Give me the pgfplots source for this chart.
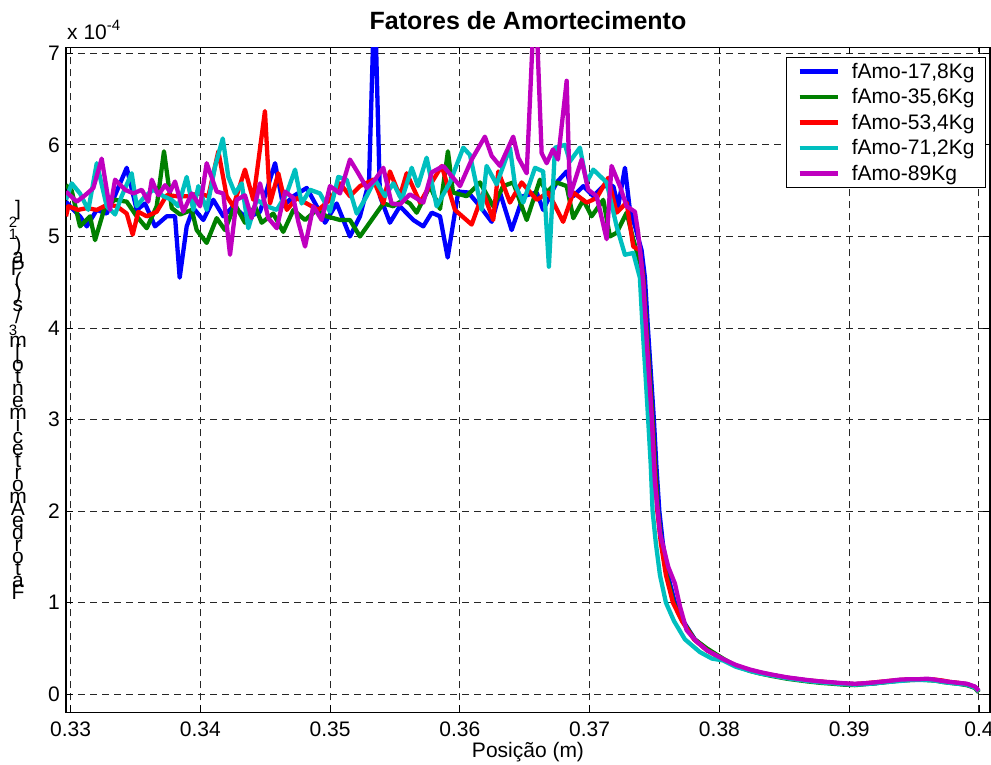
\documentclass[border=0pt]{standalone}
\usepackage{pgfplots}
\pgfplotsset{compat=1.18}
\usepackage{fontspec}
\setmainfont{Liberation Sans}
\definecolor{mblue}{rgb}{0,0,1}
\definecolor{mgreen}{rgb}{0,0.5,0}
\definecolor{mred}{rgb}{1,0,0}
\definecolor{mcyan}{rgb}{0,0.75,0.75}
\definecolor{mmag}{rgb}{0.75,0,0.75}
\newcommand\sps[1]{{\fontsize{15}{12}\selectfont #1\kern10pt}}
\newcommand\ylab{\vbox{\fontsize{21}{12}\selectfont\baselineskip=12pt\lineskiplimit=-1000pt\lineskip=0pt
\halign{\hfil##\hfil\cr
]\cr \sps{2}\cr \sps{1}\cr )\cr a\cr P\cr (\cr )\cr s\cr /\cr \sps{3}\cr m\cr [\cr o\cr t\cr n\cr e\cr m\cr i\cr c\cr e\cr t\cr r\cr o\cr m\cr A\cr e\cr d\cr r\cr o\cr t\cr a\cr F\cr}}}
\begin{document}
\begin{tikzpicture}
\begin{axis}[
  scale only axis, width=924pt, height=665pt,
  xmin=0.32965, xmax=0.40085, ymin=-0.197, ymax=7.066,
  xtick={0.33,0.34,0.35,0.36,0.37,0.38,0.39,0.40},
  xticklabels={0.33,0.34,0.35,0.36,0.37,0.38,0.39,0.4},
  ytick={0,1,2,3,4,5,6,7},
  yticklabels={0,1,2,3,4,5,6,7},
  /pgf/number format/assume math mode=true,
  tick align=inside, major tick length=7pt,
  tick style={black, line width=0.9pt},
  grid=major,
  grid style={black!85, dash pattern=on 7pt off 5pt, line width=1pt},
  axis line style={line width=1.3pt},
  ticklabel style={font=\fontsize{21}{25}\selectfont},
  xticklabel style={anchor=base, yshift=-24.5pt, inner sep=0pt},
  yticklabel style={anchor=east, xshift=-6pt, inner sep=0pt},
  legend style={at={(1,1)}, anchor=north east, xshift=-4pt, yshift=-10pt,
    draw=black, line width=1.1pt, fill=white,
    font=\fontsize{21}{25}\selectfont,
    inner xsep=11pt, inner ysep=1pt, column sep=12pt,
    nodes={inner sep=0pt}},
  legend cell align=left,
  legend image code/.code={\path[draw=none, fill=none] (0pt,-12.75pt) rectangle (38pt,12.75pt);
    \draw[#1, line width=4.5pt, line cap=butt] (0pt,0pt) -- (38pt,0pt);},
  every axis plot/.append style={line width=4.3pt, line join=round},
]
\addplot[mblue] coordinates {
(0.32965,5.38)(0.33009,5.31)(0.33073,5.22)(0.33125,5.11)(0.33202,5.29)(0.33279,5.25)(0.33343,5.45)(0.33433,5.75)(0.33510,5.29)(0.33574,5.36)(0.33651,5.11)(0.33741,5.22)(0.33805,5.22)(0.33841,4.55)(0.33895,5.11)(0.33946,5.31)(0.34023,5.18)(0.34100,5.40)(0.34177,5.22)(0.34254,5.33)(0.34357,5.20)(0.34460,5.27)(0.34576,5.80)(0.34639,5.33)(0.34717,5.44)(0.34820,5.53)(0.34897,5.33)(0.34961,5.15)(0.35051,5.36)(0.35153,5.00)(0.35230,5.22)(0.35300,5.60)(0.35343,7.70)(0.35384,5.44)(0.35461,5.15)(0.35538,5.33)(0.35641,5.18)(0.35718,5.11)(0.35783,5.26)(0.35847,5.22)(0.35906,4.77)(0.35988,5.49)(0.36065,5.48)(0.36155,5.33)(0.36245,5.16)(0.36309,5.48)(0.36399,5.07)(0.36488,5.44)(0.36592,5.48)(0.36642,5.29)(0.36746,5.59)(0.36823,5.71)(0.36874,5.44)(0.36951,5.55)(0.37028,5.44)(0.37105,5.55)(0.37182,5.55)(0.37220,5.33)(0.37272,5.75)(0.37310,5.29)(0.37352,5.10)(0.37400,4.85)(0.37426,4.55)(0.37449,4.0)(0.37472,3.5)(0.37495,3.0)(0.37514,2.5)(0.37537,2.0)(0.37564,1.65)(0.37603,1.3)(0.37657,1.0)(0.37721,0.8)(0.37810,0.6)
(0.37904,0.49)(0.38027,0.38)(0.38127,0.31)(0.38235,0.26)(0.38320,0.23)(0.38404,0.21)(0.38520,0.18)(0.38600,0.165)(0.38682,0.15)(0.38780,0.135)(0.38874,0.125)(0.38960,0.115)(0.39044,0.11)(0.39120,0.115)(0.39198,0.12)(0.39300,0.14)(0.39390,0.15)(0.39470,0.16)(0.39544,0.16)(0.39600,0.16)(0.39660,0.155)(0.39720,0.14)(0.39775,0.13)(0.39840,0.12)(0.39906,0.11)(0.39968,0.08)(0.39998,0.03)};
\addlegendentry{fAmo-17,8Kg}
\addplot[mgreen] coordinates {
(0.32965,5.56)(0.33009,5.50)(0.33073,5.11)(0.33150,5.22)(0.33189,4.96)(0.33266,5.33)(0.33343,5.40)(0.33433,5.38)(0.33510,5.22)(0.33587,5.09)(0.33664,5.33)(0.33720,5.93)(0.33780,5.31)(0.33844,5.24)(0.33934,5.29)(0.33972,5.07)(0.34049,4.93)(0.34126,5.20)(0.34190,5.07)(0.34267,5.35)(0.34344,5.15)(0.34421,5.33)(0.34473,5.15)(0.34562,5.25)(0.34639,5.05)(0.34717,5.29)(0.34807,5.18)(0.34897,5.29)(0.34974,5.22)(0.35076,5.18)(0.35153,5.18)(0.35230,5.00)(0.35320,5.18)(0.35410,5.36)(0.35487,5.33)(0.35564,5.40)(0.35615,5.36)(0.35667,5.26)(0.35770,5.55)(0.35847,5.30)(0.35908,5.93)(0.35947,5.48)(0.36052,5.44)(0.36155,5.59)(0.36257,5.33)(0.36334,5.55)(0.36411,5.59)(0.36515,5.18)(0.36617,5.62)(0.36669,5.48)(0.36746,5.59)(0.36823,5.55)(0.36874,5.20)(0.36951,5.40)(0.37015,5.22)(0.37105,5.40)(0.37156,5.00)(0.37208,5.04)(0.37285,5.26)(0.37336,4.97)(0.37411,4.60)(0.37439,4.0)(0.37462,3.5)(0.37485,3.0)(0.37504,2.5)(0.37527,2.0)(0.37554,1.65)(0.37593,1.3)(0.37647,1.0)(0.37716,0.8)(0.37809,0.6)
(0.37904,0.50)(0.38027,0.39)(0.38127,0.31)(0.38235,0.255)(0.38320,0.225)(0.38404,0.20)(0.38520,0.17)(0.38600,0.155)(0.38682,0.14)(0.38780,0.125)(0.38874,0.115)(0.38960,0.105)(0.39044,0.10)(0.39120,0.11)(0.39198,0.12)(0.39300,0.135)(0.39390,0.15)(0.39470,0.155)(0.39544,0.16)(0.39600,0.155)(0.39660,0.15)(0.39720,0.135)(0.39775,0.125)(0.39840,0.115)(0.39906,0.10)(0.39968,0.07)(0.39998,0.02)};
\addlegendentry{fAmo-35,6Kg}
\addplot[mred] coordinates {
(0.32965,5.22)(0.32983,5.33)(0.33058,5.29)(0.33125,5.31)(0.33202,5.29)(0.33289,5.35)(0.33356,5.33)(0.33433,5.25)(0.33479,5.02)(0.33522,5.27)(0.33587,5.22)(0.33664,5.27)(0.33741,5.45)(0.33818,5.44)(0.33908,5.44)(0.33985,5.47)(0.34062,5.44)(0.34139,5.93)(0.34203,5.44)(0.34254,5.33)(0.34344,5.73)(0.34408,5.40)(0.34498,6.37)(0.34537,5.36)(0.34601,5.69)(0.34666,5.29)(0.34743,5.42)(0.34820,5.36)(0.34909,5.29)(0.34999,5.40)(0.35076,5.58)(0.35153,5.44)(0.35230,5.55)(0.35333,5.62)(0.35410,5.36)(0.35461,5.71)(0.35538,5.44)(0.35590,5.69)(0.35693,5.37)(0.35783,5.59)(0.35860,5.77)(0.35962,5.29)(0.36091,5.13)(0.36180,5.48)(0.36257,5.18)(0.36296,5.71)(0.36386,5.37)(0.36476,5.59)(0.36592,5.40)(0.36681,5.48)(0.36796,5.16)(0.36874,5.48)(0.36977,5.37)(0.37054,5.42)(0.37143,5.64)(0.37208,5.26)(0.37285,5.37)(0.37336,4.89)(0.37387,4.85)(0.37411,4.55)(0.37434,4.0)(0.37457,3.5)(0.37480,3.0)(0.37499,2.5)(0.37522,2.0)(0.37549,1.65)(0.37588,1.3)(0.37642,1.0)(0.37711,0.8)(0.37804,0.6)
(0.37904,0.48)(0.38027,0.38)(0.38127,0.315)(0.38235,0.265)(0.38320,0.235)(0.38404,0.21)(0.38520,0.18)(0.38600,0.165)(0.38682,0.15)(0.38780,0.14)(0.38874,0.125)(0.38960,0.115)(0.39044,0.11)(0.39120,0.12)(0.39198,0.13)(0.39300,0.145)(0.39390,0.155)(0.39470,0.165)(0.39544,0.165)(0.39600,0.165)(0.39660,0.16)(0.39720,0.15)(0.39775,0.135)(0.39840,0.125)(0.39906,0.11)(0.39968,0.08)(0.39998,0.03)};
\addlegendentry{fAmo-53,4Kg}
\addplot[mcyan] coordinates {
(0.32965,5.40)(0.33009,5.58)(0.33073,5.47)(0.33137,5.29)(0.33202,5.80)(0.33279,5.33)(0.33343,5.24)(0.33394,5.44)(0.33471,5.69)(0.33510,5.33)(0.33574,5.44)(0.33638,5.51)(0.33715,5.44)(0.33780,5.40)(0.33830,5.33)(0.33895,5.65)(0.33946,5.29)(0.33985,5.55)(0.34049,5.29)(0.34113,5.76)(0.34173,6.07)(0.34216,5.65)(0.34267,5.47)(0.34319,5.58)(0.34370,5.09)(0.34434,5.40)(0.34512,5.33)(0.34589,5.29)(0.34666,5.47)(0.34730,5.73)(0.34781,5.36)(0.34845,5.51)(0.34922,5.47)(0.34999,5.27)(0.35063,5.65)(0.35128,5.62)(0.35205,5.25)(0.35282,5.44)(0.35346,5.62)(0.35423,5.44)(0.35487,5.58)(0.35552,5.40)(0.35629,5.75)(0.35677,5.55)(0.35744,5.86)(0.35821,5.33)(0.35924,5.59)(0.36026,5.97)(0.36078,5.89)(0.36168,5.29)(0.36206,5.77)(0.36283,5.57)(0.36386,5.97)(0.36424,5.57)(0.36488,5.37)(0.36579,5.75)(0.36642,5.71)(0.36686,4.67)(0.36733,5.97)(0.36810,6.00)(0.36848,5.82)(0.36925,5.97)(0.36977,5.59)(0.37028,5.73)(0.37131,5.59)(0.37208,5.11)(0.37272,4.80)(0.37336,4.82)(0.37387,4.55)(0.37408,4.0)(0.37430,3.5)(0.37451,3.0)(0.37471,2.5)(0.37485,2.0)(0.37510,1.65)(0.37542,1.3)(0.37588,1.0)(0.37650,0.8)(0.37734,0.6)(0.37850,0.46)
(0.37942,0.39)(0.38027,0.37)(0.38127,0.30)(0.38235,0.255)(0.38320,0.225)(0.38404,0.205)(0.38520,0.175)(0.38600,0.16)(0.38682,0.145)(0.38780,0.13)(0.38874,0.12)(0.38960,0.11)(0.39044,0.105)(0.39120,0.11)(0.39198,0.12)(0.39300,0.135)(0.39390,0.145)(0.39470,0.155)(0.39544,0.155)(0.39600,0.155)(0.39660,0.15)(0.39720,0.135)(0.39775,0.125)(0.39840,0.115)(0.39906,0.105)(0.39968,0.075)(0.39998,0.03)};
\addlegendentry{fAmo-71,2Kg}
\addplot[mmag] coordinates {
(0.32965,5.49)(0.33048,5.38)(0.33112,5.45)(0.33176,5.53)(0.33240,5.85)(0.33304,5.29)(0.33343,5.62)(0.33420,5.51)(0.33484,5.47)(0.33549,5.51)(0.33599,5.38)(0.33626,5.62)(0.33676,5.45)(0.33728,5.56)(0.33767,5.49)(0.33805,5.60)(0.33869,5.27)(0.33934,5.47)(0.33998,5.33)(0.34049,5.80)(0.34126,5.49)(0.34177,5.47)(0.34229,4.80)(0.34280,5.40)(0.34344,5.45)(0.34396,5.20)(0.34460,5.58)(0.34524,5.20)(0.34589,5.09)(0.34653,5.49)(0.34717,5.42)(0.34755,5.16)(0.34807,4.89)(0.34871,5.33)(0.34935,5.18)(0.34999,5.55)(0.35076,5.47)(0.35153,5.84)(0.35217,5.69)(0.35282,5.53)(0.35346,5.62)(0.35410,5.75)(0.35474,5.36)(0.35538,5.35)(0.35615,5.46)(0.35718,5.37)(0.35783,5.70)(0.35872,5.77)(0.36001,5.55)(0.36091,5.84)(0.36193,6.09)(0.36245,5.88)(0.36309,5.77)(0.36411,6.09)(0.36450,5.86)(0.36515,5.69)(0.36580,7.76)(0.36630,5.91)(0.36669,5.80)(0.36717,5.95)(0.36756,5.84)(0.36823,6.70)(0.36848,5.44)(0.36938,5.84)(0.36989,5.51)(0.37054,5.44)(0.37131,4.97)(0.37169,5.77)(0.37233,5.55)(0.37285,5.33)(0.37349,5.27)(0.37374,5.04)(0.37413,4.49)(0.37444,3.76)(0.37478,3.03)(0.37503,2.31)(0.37542,1.76)(0.37606,1.39)(0.37657,1.21)(0.37696,0.96)(0.37747,0.70)(0.37820,0.58)
(0.37904,0.48)(0.38027,0.385)(0.38127,0.32)(0.38235,0.27)(0.38320,0.24)(0.38404,0.215)(0.38520,0.185)(0.38600,0.17)(0.38682,0.155)(0.38780,0.14)(0.38874,0.13)(0.38960,0.12)(0.39044,0.115)(0.39120,0.12)(0.39198,0.13)(0.39300,0.145)(0.39390,0.16)(0.39470,0.165)(0.39544,0.165)(0.39600,0.17)(0.39660,0.16)(0.39720,0.145)(0.39775,0.135)(0.39840,0.125)(0.39906,0.115)(0.39968,0.085)(0.39998,0.04)};
\addlegendentry{fAmo-89Kg}
\coordinate (ll) at (rel axis cs:0,0);
\coordinate (ur) at (rel axis cs:1,1);
\coordinate (ul) at (rel axis cs:0,1);
\coordinate (tc) at (rel axis cs:0.5,1);
\coordinate (bc) at (rel axis cs:0.5,0);
\end{axis}
\node[anchor=base, inner sep=0pt, font=\fontsize{25}{29}\selectfont\bfseries] at ([yshift=17.3pt]tc) {Fatores de Amortecimento};
\node[anchor=base, inner sep=0pt, font=\fontsize{21}{25}\selectfont] at ([yshift=-45pt]bc) {Posição (m)};
\node[anchor=base west, inner sep=0pt, font=\fontsize{21}{25}\selectfont] at ([xshift=1pt,yshift=7.3pt]ul) {x 10\raisebox{9pt}{\fontsize{15}{17}\selectfont -4}};
\node[anchor=north, inner sep=0pt] at ([xshift=-48pt,yshift=-153pt]ul) {\ylab};
\pgfresetboundingbox
\path[use as bounding box] ([shift={(-66pt,-51.7pt)}]ll) rectangle ([shift={(1pt,47.3pt)}]ur);
\end{tikzpicture}
\end{document}
